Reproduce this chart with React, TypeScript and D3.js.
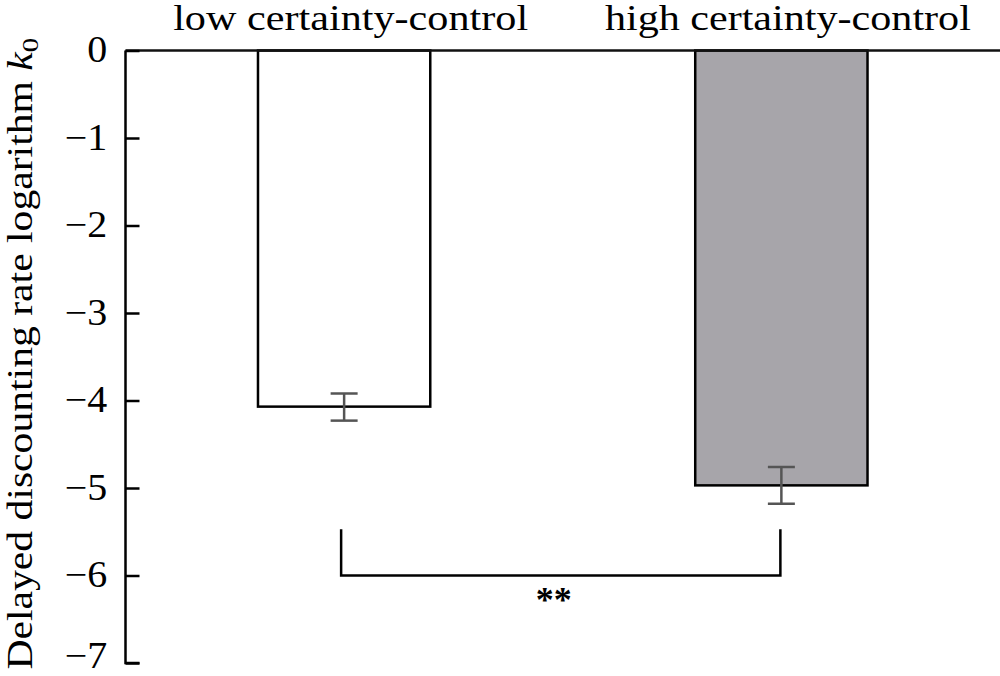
import { useEffect, useRef } from 'react';
import * as d3 from 'd3';

const categories = ['low certainty-control', 'high certainty-control'];
const means = [-4.07, -4.97];
const errLow = [-4.23, -5.18];
const errHigh = [-3.92, -4.76];
const barFills = ['#ffffff', '#a7a5aa'];
const yTicks = [0, -1, -2, -3, -4, -5, -6, -7];
const bracketTop = -5.47;
const bracketBottom = -6;
const sigLabel = '**';

const W = 1000;
const H = 676;

const App = () => {
    const svgRef = useRef<SVGSVGElement>(null);

    useEffect(() => {
        const svg = d3.select(svgRef.current);
        svg.selectAll('*').remove();

        const font = 'Liberation Serif, Times New Roman, serif';
        const axisX = 125.5;

        const y = d3.scaleLinear().domain([0, -7]).range([50.5, 663]);
        const x = d3.scaleBand<string>().domain(categories).range([axisX, W]).padding(0);
        const barW = x.bandwidth() * 0.394;
        const cx = (c: string) => (x(c) as number) + x.bandwidth() / 2;

        const g = svg.append('g');

        // bars
        g.selectAll('rect.bar')
            .data(categories)
            .enter()
            .append('rect')
            .attr('class', 'bar')
            .attr('x', d => cx(d) - barW / 2)
            .attr('y', y(0))
            .attr('width', barW)
            .attr('height', (d, i) => y(means[i]) - y(0))
            .attr('fill', (d, i) => barFills[i])
            .attr('stroke', '#000')
            .attr('stroke-width', 2.5);

        // zero line across the top
        g.append('line')
            .attr('x1', axisX).attr('x2', W)
            .attr('y1', y(0)).attr('y2', y(0))
            .attr('stroke', '#111').attr('stroke-width', 2.5);

        // error bars
        const capW = 13.5;
        categories.forEach((c, i) => {
            const eg = g.append('g').attr('stroke', '#555').attr('stroke-width', 2.5);
            eg.append('line').attr('x1', cx(c)).attr('x2', cx(c)).attr('y1', y(errHigh[i])).attr('y2', y(errLow[i]));
            eg.append('line').attr('x1', cx(c) - capW).attr('x2', cx(c) + capW).attr('y1', y(errHigh[i])).attr('y2', y(errHigh[i]));
            eg.append('line').attr('x1', cx(c) - capW).attr('x2', cx(c) + capW).attr('y1', y(errLow[i])).attr('y2', y(errLow[i]));
        });

        // y axis
        const yAxis = d3.axisRight(y).tickValues(yTicks).tickSize(14)
            .tickFormat(d => d3.format('')(d as number).replace('-', '\u2212'));
        const ax = g.append('g').attr('transform', `translate(${axisX},0)`).call(yAxis);
        ax.select('.domain').attr('d', `M14,${y(-7)}H0V${y(0)}`).attr('stroke', '#000').attr('stroke-width', 2.5);
        ax.selectAll('.tick line').attr('stroke', '#000').attr('stroke-width', 2.5);
        ax.selectAll('.tick text')
            .attr('x', -17)
            .attr('dy', (d: any) => (d === -7 ? '0.12em' : '0.31em'))
            .attr('text-anchor', 'end')
            .attr('font-family', font)
            .attr('font-size', 37)
            .attr('fill', '#000')
            .attr('transform', 'scale(1.08,1)');

        // category labels, stretched to the reference widths
        const catWidths = [355, 366];
        g.selectAll('text.cat')
            .data(categories)
            .enter()
            .append('text')
            .attr('class', 'cat')
            .attr('x', d => cx(d) + 6.5)
            .attr('y', 30)
            .attr('text-anchor', 'middle')
            .attr('font-family', font)
            .attr('font-size', 35)
            .attr('fill', '#000')
            .attr('textLength', (d, i) => catWidths[i])
            .attr('lengthAdjust', 'spacingAndGlyphs')
            .text(d => d);

        // significance bracket
        const [c0, c1] = categories;
        g.append('path')
            .attr('d', `M${cx(c0) - 3},${y(bracketTop)}V${y(bracketBottom)}H${cx(c1) - 1}V${y(bracketTop)}`)
            .attr('fill', 'none')
            .attr('stroke', '#000')
            .attr('stroke-width', 2.5);
        g.append('text')
            .attr('x', (cx(c0) + cx(c1)) / 2 - 9)
            .attr('y', y(bracketBottom) + 36)
            .attr('text-anchor', 'middle')
            .attr('font-family', font)
            .attr('font-weight', 'bold')
            .attr('font-size', 36)
            .attr('fill', '#000')
            .text(sigLabel);

        // y title
        const title = g.append('text')
            .attr('transform', `translate(32,${(y(0) + y(-7)) / 2 - 3}) rotate(-90) scale(1.19,1)`)
            .attr('text-anchor', 'middle')
            .attr('font-family', font)
            .attr('font-size', 35)
            .attr('fill', '#000');
        title.append('tspan').text('Delayed discounting rate logarithm ');
        title.append('tspan').attr('font-style', 'italic').text('k');
        title.append('tspan').attr('font-size', 24).attr('dy', 6).text('0');
    }, []);

    return <svg ref={svgRef} width={W} height={H} style={{ display: 'block', position: 'absolute', left: 0, top: 0 }} />;
};

export default App;
